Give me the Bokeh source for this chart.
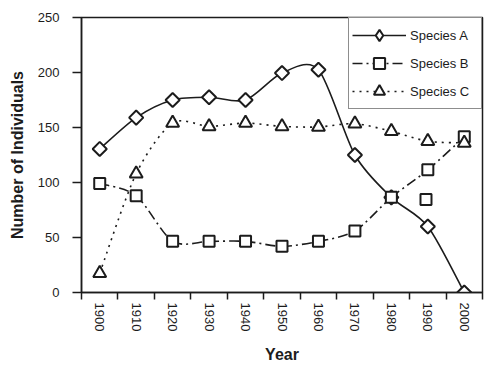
import numpy as np
from bokeh.plotting import figure
from bokeh.models import FixedTicker, Legend, LegendItem, Range1d, ColumnDataSource
from bokeh.embed import file_html
from bokeh.resources import INLINE

# ---- data ----
years = [1900, 1910, 1920, 1930, 1940, 1950, 1960, 1970, 1980, 1990, 2000]
species_a = [130.5, 159, 175, 177.5, 175, 199.5, 202.5, 125, 86.5, 60, 0]
species_b = [99, 88, 46.5, 46.5, 46.5, 42, 46.5, 56, 86.5, 111.5, 141.5]
species_c = [17.5, 108, 154, 151, 154, 151, 150.5, 153.5, 146.5, 137.5, 136]
extra_b_year = [1989.5]
extra_b_value = [84.5]
y_ticks = [0, 50, 100, 150, 200, 250]
x_minor_ticks = [1895, 1905, 1915, 1925, 1935, 1945, 1955, 1965, 1975, 1985, 1995, 2005]

INK = "#1c1c1c"
FONT = "Liberation Sans"


def smooth_source(xs, ys, tension=0.85):
    """Catmull-Rom segments expressed as cubic Bezier control points."""
    xs = np.asarray(xs, float)
    ys = np.asarray(ys, float)
    n = len(xs)
    k = tension / 6
    d = dict(x0=[], y0=[], x1=[], y1=[], cx0=[], cy0=[], cx1=[], cy1=[])
    for i in range(n - 1):
        a = i - 1 if i > 0 else i
        b = i + 2 if i + 2 < n else i + 1
        d["x0"].append(xs[i]); d["y0"].append(ys[i])
        d["x1"].append(xs[i + 1]); d["y1"].append(ys[i + 1])
        d["cx0"].append(xs[i] + (xs[i + 1] - xs[a]) * k)
        d["cy0"].append(ys[i] + (ys[i + 1] - ys[a]) * k)
        d["cx1"].append(xs[i + 1] - (xs[b] - xs[i]) * k)
        d["cy1"].append(ys[i + 1] - (ys[b] - ys[i]) * k)
    return ColumnDataSource(d)


p = figure(width=487, height=368, output_backend="svg", toolbar_location=None,
           x_range=Range1d(1895, 2005), y_range=Range1d(0, 250),
           min_border_left=81, min_border_right=5, min_border_top=17,
           min_border_bottom=76)
p.background_fill_color = "white"
p.border_fill_color = "white"
p.outline_line_color = INK
p.outline_line_width = 1.5
p.xgrid.visible = False
p.ygrid.visible = False

# curves
bez = dict(x0="x0", y0="y0", x1="x1", y1="y1", cx0="cx0", cy0="cy0", cx1="cx1", cy1="cy1")
ra = p.bezier(source=smooth_source(years, species_a), line_color=INK, line_width=1.6, **bez)
rb = p.bezier(source=smooth_source(years, species_b), line_color=INK, line_width=1.6,
              line_dash="10 4 2 4", **bez)
rc = p.bezier(source=smooth_source(years, species_c), line_color=INK, line_width=1.6,
              line_dash="2 5", **bez)

# small diamonds hidden under the Species A markers: they supply the legend key shape
ma_key = p.scatter(years, species_a, marker="diamond", size=5,
                   fill_color="white", line_color=INK, line_width=2)
# markers
ma = p.scatter(years, species_a, marker="square", angle=np.pi / 4, size=10,
               fill_color="white", line_color=INK, line_width=2)
mb = p.scatter(years, species_b, marker="square", size=11,
               fill_color="white", line_color=INK, line_width=2)
p.scatter(extra_b_year, extra_b_value, marker="square", size=11,
          fill_color="white", line_color=INK, line_width=2)
mc = p.scatter(years, species_c, marker="triangle", size=13,
               fill_color="white", line_color=INK, line_width=2)

# axes
p.xaxis.ticker = FixedTicker(ticks=years, minor_ticks=x_minor_ticks)
p.xaxis.major_tick_in = 0
p.xaxis.major_tick_out = 0
p.xaxis.minor_tick_in = 0
p.xaxis.minor_tick_out = 7
p.xaxis.minor_tick_line_color = INK
p.xaxis.minor_tick_line_width = 1.5
p.xaxis.major_label_orientation = "vertical"
p.xaxis.major_label_standoff = 3
p.xaxis.axis_label = "Year"
p.xaxis.axis_label_standoff = 12

p.yaxis.ticker = FixedTicker(ticks=y_ticks)
p.yaxis.minor_tick_line_color = None
p.yaxis.major_tick_in = 0
p.yaxis.major_tick_out = 9
p.yaxis.major_label_standoff = 13
p.yaxis.axis_label = "Number of Individuals"
p.yaxis.axis_label_standoff = 9

for ax in (p.xaxis[0], p.yaxis[0]):
    ax.axis_line_color = INK
    ax.axis_line_width = 1.5
    ax.major_tick_line_color = INK
    ax.major_tick_line_width = 1.5
    ax.major_label_text_font = FONT
    ax.major_label_text_font_size = "13px"
    ax.major_label_text_color = INK
    ax.axis_label_text_font = FONT
    ax.axis_label_text_font_size = "16px"
    ax.axis_label_text_font_style = "bold"
    ax.axis_label_text_color = INK

legend = Legend(items=[
    LegendItem(label="Species A", renderers=[ra, ma_key]),
    LegendItem(label="Species B", renderers=[rb, mb]),
    LegendItem(label="Species C", renderers=[rc, mc]),
], location="top_right", margin=0, padding=3, spacing=-9,
    glyph_width=54, glyph_height=28, label_height=28, label_width=68, label_standoff=4,
    label_text_font=FONT, label_text_font_size="13px", label_text_color=INK,
    border_line_color=INK, border_line_width=1.5, background_fill_alpha=1.0)
p.add_layout(legend)

open("out.html", "w").write(file_html(p, INLINE))
